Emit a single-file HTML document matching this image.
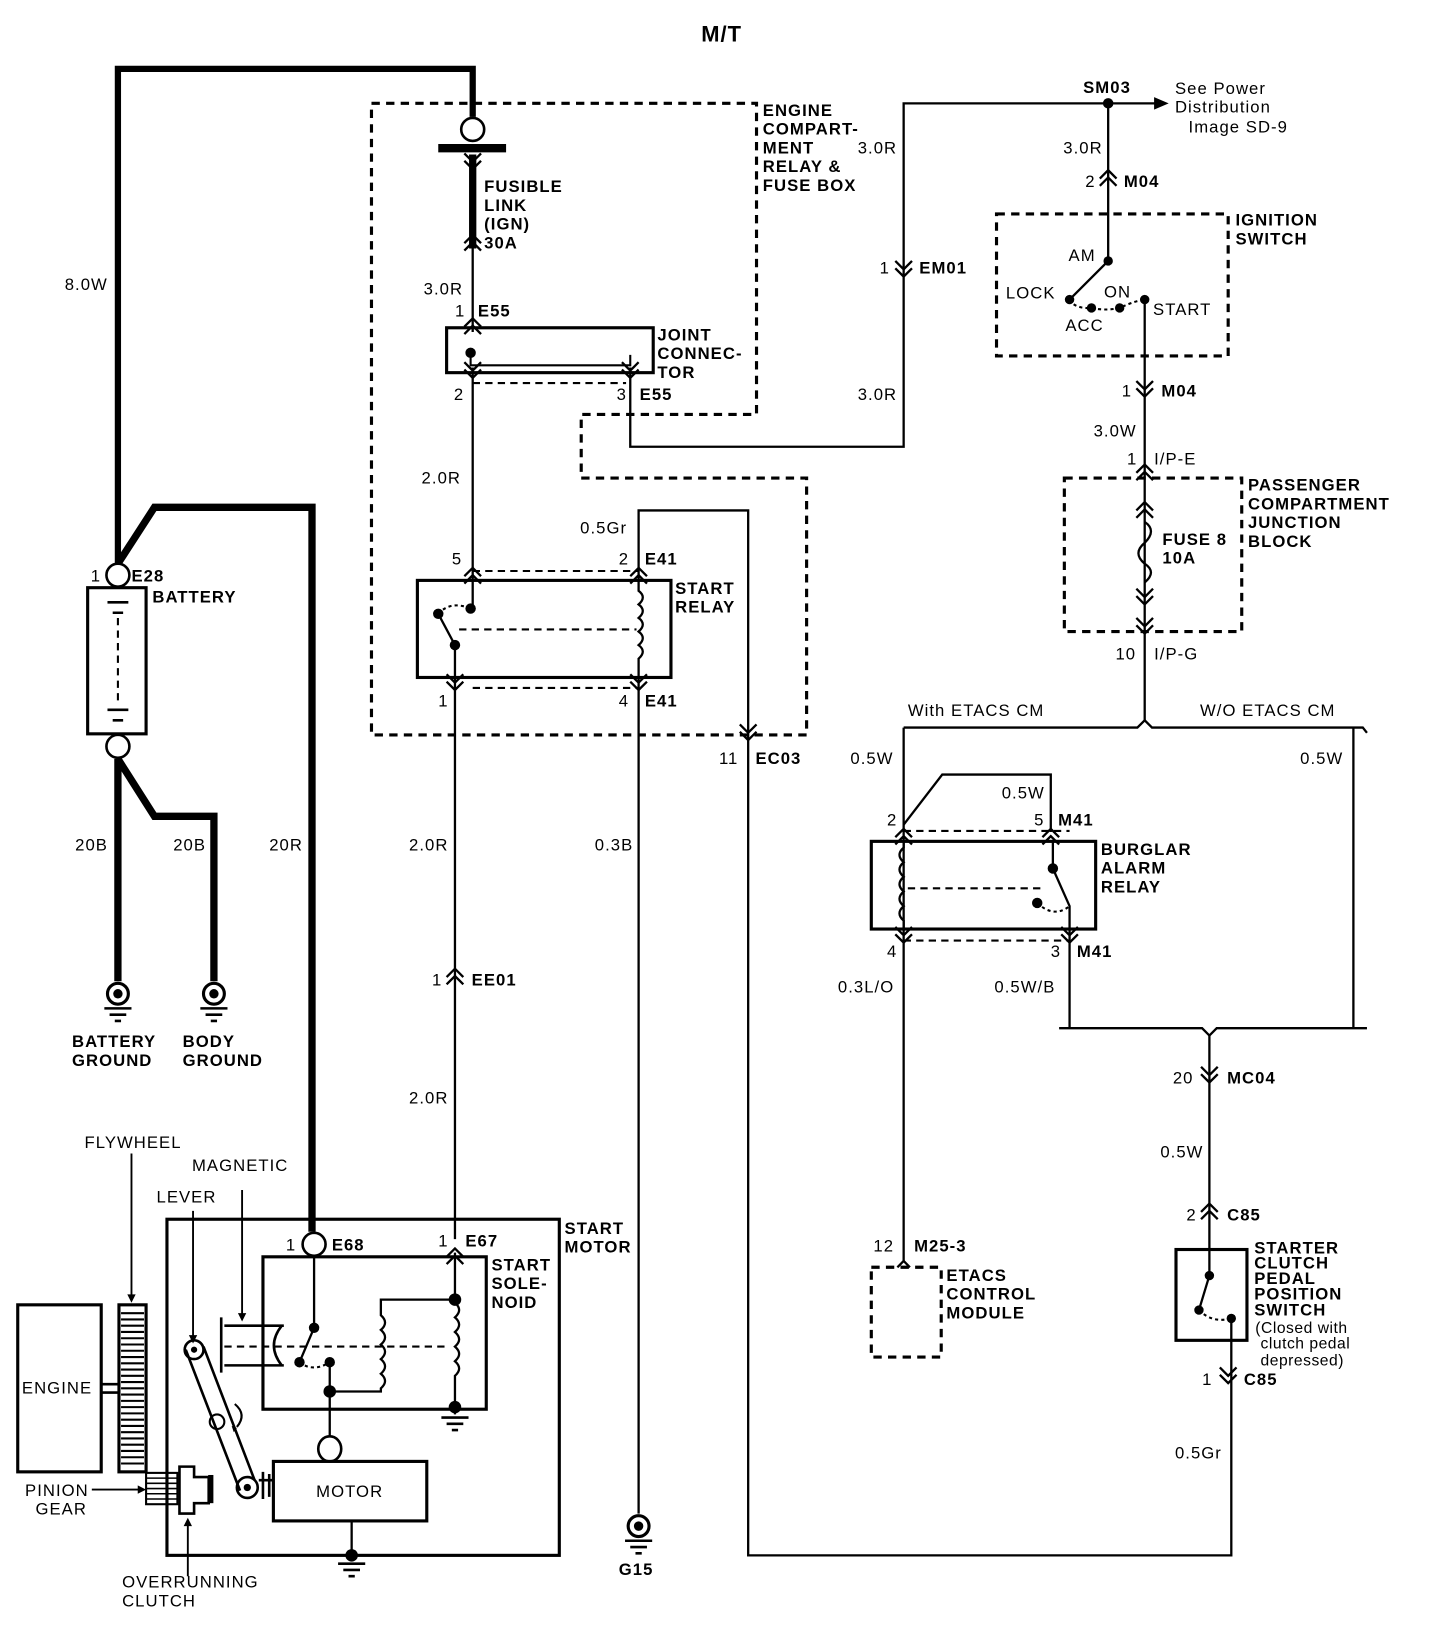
<!DOCTYPE html>
<html><head><meta charset="utf-8"><style>
html,body{margin:0;padding:0;background:#fff}
svg{display:block}
text{font-family:"Liberation Sans",Arial,sans-serif;font-size:16px;letter-spacing:1px;fill:#000}
.b{font-weight:bold}
</style></head><body>
<svg width="1440" height="1642" viewBox="0 0 1380 1573" preserveAspectRatio="none" xmlns="http://www.w3.org/2000/svg">
<defs>
<g id="cd"><path d="M-8,-8 L0,0 L8,-8 M-8,-1 L0,7 L8,-1" fill="none" stroke="#000" stroke-width="2.2"/></g>
<g id="cu"><path d="M-8,8 L0,0 L8,8 M-8,1 L0,-7 L8,1" fill="none" stroke="#000" stroke-width="2.2"/></g>
<g id="gnd"><path d="M-13,0 H13 M-8,6 H8 M-3,12 H3" stroke="#000" stroke-width="2.5"/></g>
</defs>
<g fill="none" stroke="#000">
<path d="M113,540 V66 H453 V112" stroke-width="6"/>
<path d="M113,540 L148,486 H299 V1180" stroke-width="7"/>
<path d="M113,727 V940 M113,727 L148,782 H205 V940" stroke-width="7"/>
<path d="M420,142 H485" stroke-width="8"/>
<path d="M453,148 V238" stroke-width="7"/>
<circle cx="453" cy="124" r="11" stroke-width="2.5"/>
<path d="M356,99 H725 V397 H557 V458 H773 V704 H356 Z" stroke-width="3" stroke-dasharray="8,6"/>
<rect x="955" y="205" width="222" height="136" stroke-width="3" stroke-dasharray="8,6"/>
<rect x="1020" y="458" width="170" height="147" stroke-width="3" stroke-dasharray="8,6"/>
<rect x="835" y="1214" width="67" height="86" stroke-width="3" stroke-dasharray="8,6"/>
<g stroke-width="2.2">
<path d="M453,238 V318"/>
<path d="M453,352 V556"/>
<path d="M604,352 V428 H866 V99 H1062"/>
<path d="M1062,99 H1108"/>
<path d="M1062,99 V250"/>
<path d="M1097,287 V690"/>
<path d="M866,697 L1090,697 L1097,690 L1104,697 H1306 L1310,702"/>
<path d="M866,697 V1208"/>
<path d="M1297,697 V985"/>
<path d="M866,790 L903,742 H1007 V797"/>
<path d="M1025,890 V985"/>
<path d="M1015,985 H1152 L1159,992 L1166,985 H1310"/>
<path d="M1159,992 V1222"/>
<path d="M1180,1263 V1490 H717 V489 H612 V556"/>
<path d="M436,649 V1187"/>
<path d="M612,649 V1450"/>
<path d="M866,1208 L860,1214 M866,1208 L872,1214"/>
</g>
<rect x="428" y="314" width="198" height="43" stroke-width="3"/>
<path d="M451,338 V350 H604 V340" stroke-width="2"/>
<path d="M453,367 H600 M453,547 H612 M453,659 H612 M866,796 H1025 M866,901 H1025" stroke-width="2" stroke-dasharray="7,5"/>
<rect x="400" y="556" width="243" height="93" stroke-width="3"/>
<path d="M453,556 V583 M436,649 V618 L420,588" stroke-width="2.2"/>
<path d="M420,588 Q432,575 451,583" stroke-width="2" stroke-dasharray="3,3"/>
<path d="M440,603 H610" stroke-width="2" stroke-dasharray="7,5"/>
<path d="M612,556 V566 q8,6 0,13 q8,6 0,13 q8,6 0,13 q8,6 0,13 q8,6 0,13 V649" stroke-width="2.2"/>
<rect x="835" y="806" width="215" height="84" stroke-width="3"/>
<path d="M866,806 V812 q-8,7 0,14 q-8,7 0,14 q-8,7 0,14 q-8,7 0,14 q-8,7 0,14 V890" stroke-width="2.2"/>
<path d="M870,851 H1000" stroke-width="2" stroke-dasharray="7,5"/>
<path d="M1009,806 V832 L1025,868 V890" stroke-width="2.2"/>
<path d="M994,865 Q1010,880 1025,868" stroke-width="2" stroke-dasharray="3,3"/>
<path d="M1062,250 L1025,287" stroke-width="2.2"/>
<path d="M1025,287 Q1030,296 1046,295 Q1060,298 1073,295 Q1088,288 1097,287" stroke-width="2" stroke-dasharray="3,3"/>
<path d="M1097,500 q12,8 0,20 q-12,10 0,20 q12,8 0,18" stroke-width="2.2"/>
<rect x="84" y="563" width="56" height="140" stroke-width="3"/>
<path d="M103,577 H123 M108,587 H118 M103,680 H123 M108,690 H118" stroke-width="2.5"/>
<path d="M113,592 V675" stroke-width="2" stroke-dasharray="7,5"/>
<circle cx="113" cy="551" r="11" fill="#fff" stroke-width="2.5"/>
<circle cx="113" cy="715" r="11" fill="#fff" stroke-width="2.5"/>
<circle cx="113" cy="952" r="10" stroke-width="3"/>
<circle cx="205" cy="952" r="10" stroke-width="3"/>
<circle cx="612" cy="1462" r="10" stroke-width="3"/>
<rect x="1127" y="1197" width="68" height="87" stroke-width="3"/>
<path d="M1159,1222 L1149,1255" stroke-width="2.2"/>
<path d="M1149,1255 Q1162,1268 1180,1263" stroke-width="2" stroke-dasharray="3,3"/>
<rect x="160" y="1168" width="376" height="322" stroke-width="3"/>
<rect x="252" y="1204" width="214" height="146" stroke-width="3"/>
<circle cx="301" cy="1192" r="11" fill="#fff" stroke-width="2.5"/>
<path d="M301,1203 V1272 L287,1305 M316,1305 V1378 M316,1333 H365 V1330 q8,-7 0,-14 q8,-7 0,-14 q8,-7 0,-14 q8,-7 0,-14 q8,-7 0,-14 V1245 H436 M436,1200 V1248 q8,7 0,14 q8,7 0,14 q8,7 0,14 q8,7 0,14 q8,7 0,14 V1355" stroke-width="2.2"/>
<path d="M287,1305 Q300,1315 316,1305" stroke-width="2" stroke-dasharray="3,3"/>
<path d="M215,1290 H430" stroke-width="2" stroke-dasharray="7,5"/>
<path d="M212,1262 V1315 M215,1270 H272 M215,1308 H272 M270,1270 Q255,1289 270,1308" stroke-width="2.5"/>
<ellipse cx="316" cy="1388" rx="11" ry="12" fill="#fff" stroke-width="2.5"/>
<rect x="262" y="1400" width="147" height="57" stroke-width="3"/>
<path d="M337,1457 V1490" stroke-width="2.2"/>
<rect x="17" y="1250" width="80" height="160" stroke-width="3"/>
<rect x="114" y="1250" width="26" height="160" stroke-width="3"/>
<path d="M116,1258 H138 M116,1264 H138 M116,1270 H138 M116,1276 H138 M116,1282 H138 M116,1288 H138 M116,1294 H138 M116,1300 H138 M116,1306 H138 M116,1312 H138 M116,1318 H138 M116,1324 H138 M116,1330 H138 M116,1336 H138 M116,1342 H138 M116,1348 H138 M116,1354 H138 M116,1360 H138 M116,1366 H138 M116,1372 H138 M116,1378 H138 M116,1384 H138 M116,1390 H138 M116,1396 H138 M116,1402 H138" stroke-width="2"/>
<path d="M97,1326 H114 M97,1334 H114" stroke-width="2.5"/>
<rect x="140" y="1411" width="30" height="30" stroke-width="2"/>
<path d="M140,1416 H170 M140,1421 H170 M140,1426 H170 M140,1431 H170 M140,1436 H170" stroke-width="1.5"/>
<path d="M172,1405 H186 V1415 H200 V1440 H186 V1450 H172 Z" stroke-width="2.5"/>
<path d="M202,1413 V1440" stroke-width="5"/>
<path d="M178,1293 L230,1428 M195,1290 L244,1418" stroke-width="2.5"/>
<circle cx="186" cy="1293" r="9" stroke-width="2.5"/>
<circle cx="208" cy="1362" r="7" stroke-width="2"/>
<circle cx="237" cy="1425" r="10" stroke-width="2.5"/>
<path d="M248,1418 H262 M252,1410 V1436 M258,1412 V1434" stroke-width="2.5"/>
<path d="M225,1345 q12,10 2,22" stroke-width="2"/>
<path d="M126,1105 V1242 M232,1140 V1262 M185,1160 V1283 M88,1427 H136 M180,1510 V1458" stroke-width="1.8"/>
</g>
<g fill="#000">
<circle cx="1062" cy="99" r="5"/>
<path d="M1106,93 L1120,99 L1106,105 Z"/>
<path d="M122,1240 L126,1248 L130,1240 Z M228,1258 L232,1266 L236,1258 Z M181,1279 L185,1287 L189,1279 Z M132,1423 L140,1427 L132,1431 Z M176,1462 L180,1454 L184,1462 Z M222,1366 L227,1368 L224,1372 Z"/>
<circle cx="451" cy="338" r="5"/>
<circle cx="451" cy="583" r="5"/><circle cx="420" cy="588" r="5"/><circle cx="436" cy="618" r="5"/>
<circle cx="1062" cy="250" r="4.5"/><circle cx="1025" cy="287" r="4.5"/><circle cx="1046" cy="295" r="4.5"/><circle cx="1073" cy="295" r="4.5"/><circle cx="1097" cy="287" r="4.5"/>
<circle cx="1009" cy="832" r="5"/><circle cx="994" cy="865" r="5"/>
<circle cx="1159" cy="1222" r="4.5"/><circle cx="1149" cy="1255" r="4.5"/><circle cx="1180" cy="1263" r="4.5"/>
<circle cx="113" cy="952" r="4.5"/><circle cx="205" cy="952" r="4.5"/><circle cx="612" cy="1462" r="4.5"/>
<circle cx="301" cy="1272" r="5"/><circle cx="287" cy="1305" r="5"/><circle cx="316" cy="1305" r="5"/><circle cx="316" cy="1333" r="6"/>
<circle cx="436" cy="1245" r="6"/><circle cx="436" cy="1348" r="6"/><circle cx="337" cy="1490" r="6"/>
<circle cx="186" cy="1293" r="3"/><circle cx="237" cy="1425" r="3.5"/>
</g>
<use href="#gnd" x="113" y="966"/><use href="#gnd" x="205" y="966"/><use href="#gnd" x="612" y="1476"/>
<use href="#gnd" x="436" y="1358"/><use href="#gnd" x="337" y="1498"/>
<use href="#cd" x="453" y="155"/><use href="#cu" x="453" y="232"/>
<use href="#cu" x="453" y="312"/><use href="#cd" x="453" y="355"/><use href="#cd" x="604" y="355"/>
<use href="#cd" x="866" y="258"/>
<use href="#cu" x="1062" y="170"/><use href="#cd" x="1097" y="373"/>
<use href="#cu" x="1097" y="452"/><use href="#cu" x="1097" y="488"/><use href="#cd" x="1097" y="572"/><use href="#cd" x="1097" y="600"/>
<use href="#cu" x="453" y="551"/><use href="#cu" x="612" y="551"/><use href="#cd" x="436" y="654"/><use href="#cd" x="612" y="654"/>
<use href="#cd" x="717" y="702"/>
<use href="#cu" x="436" y="935"/>
<use href="#cu" x="866" y="801"/><use href="#cu" x="1007" y="801"/><use href="#cd" x="866" y="896"/><use href="#cd" x="1025" y="896"/>
<use href="#cd" x="1159" y="1030"/><use href="#cu" x="1159" y="1160"/><use href="#cd" x="1177" y="1318"/>
<use href="#cu" x="436" y="1203"/>
<text x="672" y="40" class="b" style="font-size:21px">M/T</text>
<text x="731" y="111" class="b">ENGINE</text><text x="731" y="129" class="b">COMPART-</text><text x="731" y="147" class="b">MENT</text><text x="731" y="165" class="b">RELAY &amp;</text><text x="731" y="183" class="b">FUSE BOX</text>
<text x="464" y="184" class="b">FUSIBLE</text><text x="464" y="202" class="b">LINK</text><text x="464" y="220" class="b">(IGN)</text><text x="464" y="238" class="b">30A</text>
<text x="406" y="282">3.0R</text><text x="436" y="303">1</text><text x="458" y="303" class="b">E55</text>
<text x="630" y="326" class="b">JOINT</text><text x="630" y="344" class="b">CONNEC-</text><text x="630" y="362" class="b">TOR</text>
<text x="435" y="383">2</text><text x="591" y="383">3</text><text x="613" y="383" class="b">E55</text>
<text x="404" y="463">2.0R</text>
<text x="556" y="511">0.5Gr</text>
<text x="433" y="541">5</text><text x="593" y="541">2</text><text x="618" y="541" class="b">E41</text>
<text x="647" y="569" class="b">START</text><text x="647" y="587" class="b">RELAY</text>
<text x="420" y="677">1</text><text x="593" y="677">4</text><text x="618" y="677" class="b">E41</text>
<text x="689" y="732">11</text><text x="724" y="732" class="b">EC03</text>
<text x="62" y="278">8.0W</text>
<text x="87" y="557">1</text><text x="126" y="557" class="b">E28</text><text x="146" y="577" class="b">BATTERY</text>
<text x="72" y="815">20B</text><text x="166" y="815">20B</text><text x="258" y="815">20R</text>
<text x="392" y="815">2.0R</text><text x="570" y="815">0.3B</text>
<text x="414" y="944">1</text><text x="452" y="944" class="b">EE01</text>
<text x="392" y="1057">2.0R</text>
<text x="69" y="1003" class="b">BATTERY</text><text x="69" y="1021" class="b">GROUND</text>
<text x="175" y="1003" class="b">BODY</text><text x="175" y="1021" class="b">GROUND</text>
<text x="81" y="1100">FLYWHEEL</text><text x="184" y="1122">MAGNETIC</text><text x="150" y="1152">LEVER</text>
<text x="541" y="1182" class="b">START</text><text x="541" y="1200" class="b">MOTOR</text>
<text x="274" y="1198">1</text><text x="318" y="1198" class="b">E68</text>
<text x="420" y="1194">1</text><text x="446" y="1194" class="b">E67</text>
<text x="471" y="1217" class="b">START</text><text x="471" y="1235" class="b">SOLE-</text><text x="471" y="1253" class="b">NOID</text>
<text x="21" y="1335">ENGINE</text>
<text x="303" y="1434">MOTOR</text>
<text x="24" y="1433">PINION</text><text x="34" y="1451">GEAR</text>
<text x="117" y="1521">OVERRUNNING</text><text x="117" y="1539">CLUTCH</text>
<text x="593" y="1509" class="b">G15</text>
<text x="1038" y="89" class="b">SM03</text>
<text x="1126" y="90">See Power</text><text x="1126" y="108">Distribution</text><text x="1139" y="127">Image SD-9</text>
<text x="822" y="147">3.0R</text><text x="1019" y="147">3.0R</text>
<text x="1040" y="179">2</text><text x="1077" y="179" class="b">M04</text>
<text x="1184" y="216" class="b">IGNITION</text><text x="1184" y="234" class="b">SWITCH</text>
<text x="1024" y="250">AM</text><text x="964" y="286">LOCK</text><text x="1058" y="285">ON</text><text x="1021" y="317">ACC</text><text x="1105" y="302">START</text>
<text x="843" y="262">1</text><text x="881" y="262" class="b">EM01</text>
<text x="822" y="383">3.0R</text>
<text x="1075" y="380">1</text><text x="1113" y="380" class="b">M04</text>
<text x="1048" y="418">3.0W</text>
<text x="1080" y="445">1</text><text x="1106" y="445">I/P-E</text>
<text x="1196" y="470" class="b">PASSENGER</text><text x="1196" y="488" class="b">COMPARTMENT</text><text x="1196" y="506" class="b">JUNCTION</text><text x="1196" y="524" class="b">BLOCK</text>
<text x="1114" y="522" class="b">FUSE 8</text><text x="1114" y="540" class="b">10A</text>
<text x="1069" y="632">10</text><text x="1106" y="632">I/P-G</text>
<text x="870" y="686">With ETACS CM</text><text x="1150" y="686">W/O ETACS CM</text>
<text x="815" y="732">0.5W</text><text x="1246" y="732">0.5W</text>
<text x="960" y="765">0.5W</text>
<text x="850" y="791">2</text><text x="991" y="791">5</text><text x="1014" y="791" class="b">M41</text>
<text x="1055" y="819" class="b">BURGLAR</text><text x="1055" y="837" class="b">ALARM</text><text x="1055" y="855" class="b">RELAY</text>
<text x="850" y="917">4</text><text x="1007" y="917">3</text><text x="1032" y="917" class="b">M41</text>
<text x="803" y="951">0.3L/O</text><text x="953" y="951">0.5W/B</text>
<text x="1124" y="1038">20</text><text x="1176" y="1038" class="b">MC04</text>
<text x="1112" y="1109">0.5W</text>
<text x="1137" y="1169">2</text><text x="1176" y="1169" class="b">C85</text>
<text x="837" y="1199">12</text><text x="876" y="1199" class="b">M25-3</text>
<text x="1202" y="1201" class="b">STARTER</text><text x="1202" y="1215" class="b">CLUTCH</text><text x="1202" y="1230" class="b">PEDAL</text><text x="1202" y="1245" class="b">POSITION</text><text x="1202" y="1260" class="b">SWITCH</text>
<text x="1203" y="1277" style="font-size:15px;letter-spacing:0.5px">(Closed with</text><text x="1208" y="1292" style="font-size:15px;letter-spacing:0.5px">clutch pedal</text><text x="1208" y="1308" style="font-size:15px;letter-spacing:0.5px">depressed)</text>
<text x="907" y="1227" class="b">ETACS</text><text x="907" y="1245" class="b">CONTROL</text><text x="907" y="1263" class="b">MODULE</text>
<text x="1152" y="1327">1</text><text x="1192" y="1327" class="b">C85</text>
<text x="1126" y="1397">0.5Gr</text>
</svg>
</body></html>
